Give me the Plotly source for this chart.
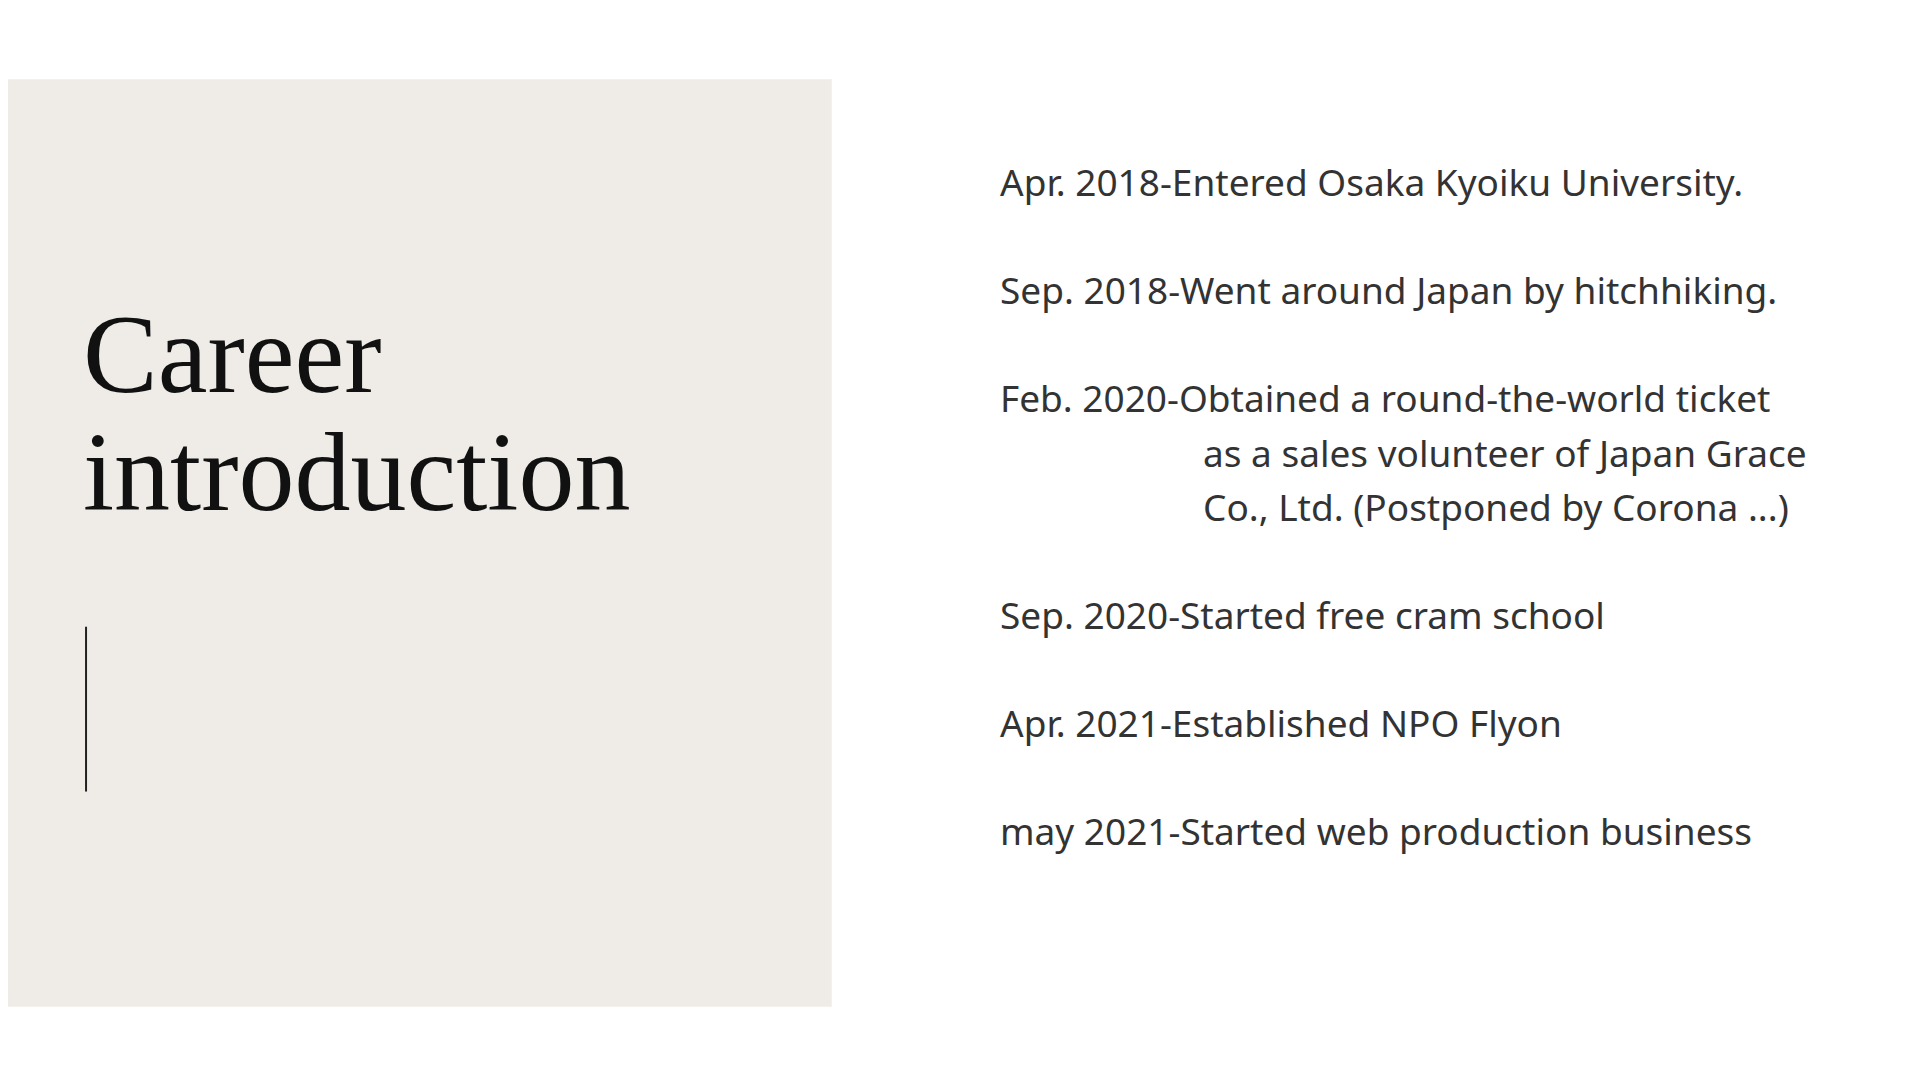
import plotly.graph_objects as go

title_lines = ["Career", "introduction"]
career_items = [
    ["Apr. 2018-Entered Osaka Kyoiku University."],
    ["Sep. 2018-Went around Japan by hitchhiking."],
    ["Feb. 2020-Obtained a round-the-world ticket",
     "as a sales volunteer of Japan Grace",
     "Co., Ltd. (Postponed by Corona ...)"],
    ["Sep. 2020-Started free cram school"],
    ["Apr. 2021-Established NPO Flyon"],
    ["may 2021-Started web production business"],
]

H = 878.0
W = 1550.0
DX = 7   # page offset correction
DY = 7

fig = go.Figure()
fig.update_layout(
    width=1920, height=1080,
    margin=dict(l=0, r=0, t=0, b=0),
    paper_bgcolor="white", plot_bgcolor="white",
    xaxis=dict(visible=False, range=[0, 1]),
    yaxis=dict(visible=False, range=[0, 1]),
    showlegend=False,
)

# beige panel and thin vertical rule
fig.add_shape(type="rect", xref="paper", yref="paper",
              x0=-DX / W, x1=(672 - DX) / W, y0=1 - (819 - DY) / H, y1=1 - (65 - DY) / H,
              fillcolor="#efece8", line_width=0, layer="below")
fig.add_shape(type="line", xref="paper", yref="paper",
              x0=(70 - DX) / W, x1=(70 - DX) / W, y0=1 - (644 - DY) / H, y1=1 - (510 - DY) / H,
              line=dict(color="#222222", width=2))

for i, t in enumerate(title_lines):
    fig.add_annotation(text=t, xref="paper", yref="paper",
                       x=(66 - DX) / W, y=1 - (288 + i * 96 - DY) / H,
                       xanchor="left", yanchor="middle", showarrow=False,
                       font=dict(family="Liberation Serif", size=112, color="#111111"))

y = 148
for item in career_items:
    for j, line in enumerate(item):
        fig.add_annotation(text=line, xref="paper", yref="paper",
                           x=((806 if j == 0 else 970) - DX) / W, y=1 - (y - DY) / H,
                           xanchor="left", yanchor="middle", showarrow=False,
                           font=dict(family="Noto Sans", size=37, color="#333333"))
        y += 44
    y += 44

fig.write_html("out.html")
